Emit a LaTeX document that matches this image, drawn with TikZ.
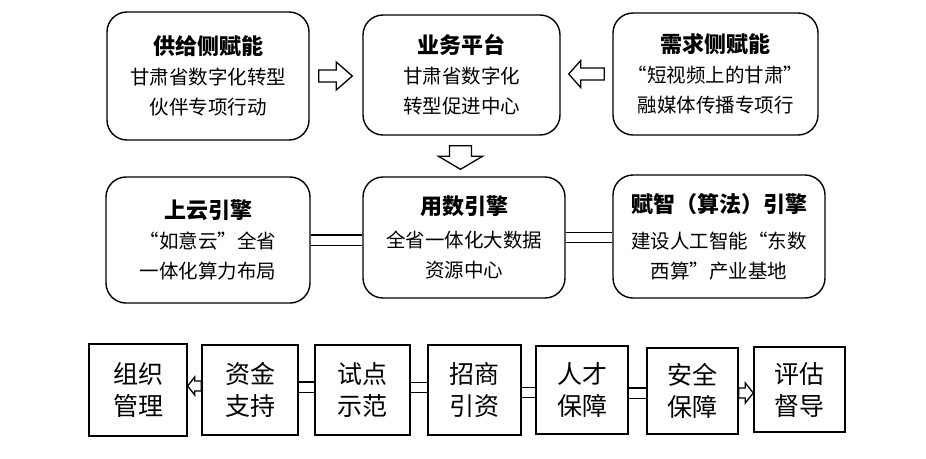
\documentclass[tikz,border=0pt]{standalone}
\usepackage{fontspec}
\setmainfont{Noto Sans CJK SC}
\usetikzlibrary{calc,backgrounds}
\newcommand\ttl[1]{{\bfseries\fontsize{22}{30}\selectfont #1}}
% hollow arrow: #1 tail coordinate, #2 tip coordinate, #3 shaft half width, #4 head half width, #5 head length
\newcommand\hollowarrow[5]{%
  \coordinate (ha-q) at ($(#2)!#5!(#1)$);
  \draw[harrow] ($(#1)!#3!90:(#2)$) -- ($(ha-q)!#3!-90:(#1)$) -- ($(ha-q)!#4!-90:(#1)$) -- (#2)
    -- ($(ha-q)!#4!90:(#1)$) -- ($(ha-q)!#3!90:(#1)$) -- ($(#1)!#3!-90:(#2)$) -- cycle;
}
\begin{document}
\begin{tikzpicture}[x=1pt,y=-1pt,
  rbox/.style={draw, line width=1.4pt, rounded corners=20pt, align=center, inner sep=0pt,
    font=\fontsize{19.5}{30}\selectfont},
  sbox/.style={draw, line width=1.4pt, align=center, inner sep=0pt,
    font=\fontsize{25}{32}\selectfont},
  harrow/.style={draw, line width=1.3pt, fill=white, line join=miter},
  bar/.style={double=white, double distance=9pt, line width=1.3pt}]
\useasboundingbox (0,0) rectangle (926,458);

% top row
\node[rbox, minimum width=202pt, minimum height=128pt] (A) at (208,76)
  {\ttl{供给侧赋能}\\甘肃省数字化转型\\伙伴专项行动};
\node[rbox, minimum width=197pt, minimum height=120pt] (B) at (461.5,75)
  {\ttl{业务平台}\\甘肃省数字化\\转型促进中心};
\node[rbox, minimum width=205pt, minimum height=122pt] (C) at (715.5,74)
  {\ttl{需求侧赋能}\\“短视频上的甘肃”\\融媒体传播专项行};

% middle row
\node[rbox, minimum width=204pt, minimum height=126pt] (D) at (208,240)
  {\ttl{上云引擎}\\“如意云”全省\\一体化算力布局};
\node[rbox, minimum width=202pt, minimum height=121pt] (E) at (464,237.5)
  {\ttl{用数引擎}\\[3pt]全省一体化大数据\\资源中心};
\node[rbox, minimum width=212pt, minimum height=123pt] (F) at (719,236.5)
  {\ttl{赋智（算法）引擎}\\[6pt]建设人工智能“东数\\西算”产业基地};

% bottom row
\node[sbox, minimum width=98pt, minimum height=92pt] (G) at (138,390) {组织\\管理};
\node[sbox, minimum width=96pt, minimum height=90pt] (H) at (250,390) {资金\\支持};
\node[sbox, minimum width=95pt, minimum height=90pt] (I) at (362.5,390) {试点\\示范};
\node[sbox, minimum width=93pt, minimum height=90pt] (J) at (474.5,390) {招商\\引资};
\node[sbox, minimum width=92pt, minimum height=88pt] (K) at (582,390) {人才\\保障};
\node[sbox, minimum width=91pt, minimum height=86pt] (L) at (692.5,391) {安全\\保障};
\node[sbox, minimum width=91pt, minimum height=85pt] (M) at (799.5,389.5) {评估\\督导};

% double bars
\begin{scope}[on background layer]
  \draw[bar] (D.east) -- (D.east -| E.west);
  \draw[bar] (E.east) -- (E.east -| F.west);
  \coordinate (hi) at ($(H.east)+(0,-3)$);
  \draw[bar] (hi) -- (hi -| I.west);
  \coordinate (ij) at ($(I.east)+(0,-2.5)$);
  \draw[bar] (ij) -- (ij -| J.west);
  \coordinate (jk) at ($(J.east)+(0,2.5)$);
  \draw[bar] (jk) -- (jk -| K.west);
  \coordinate (kl) at ($(K.east)+(0,3)$);
  \draw[bar] (kl) -- (kl -| L.west);
\end{scope}

% hollow arrows
\coordinate (ab-t) at ($(A.east)+(9,0)$);
\coordinate (ab-h) at ($(B.west |- ab-t)+(-10,0)$);
\hollowarrow{ab-t}{ab-h}{6pt}{14pt}{16pt}

\coordinate (cb-t) at ($(C.west)+(-8,0)$);
\coordinate (cb-h) at ($(B.east |- cb-t)+(8,0)$);
\hollowarrow{cb-t}{cb-h}{6pt}{13.5pt}{12pt}

\coordinate (be-t) at ($(B.south)+(-1,10)$);
\coordinate (be-h) at ($(E.north -| be-t)+(0,-7)$);
\hollowarrow{be-t}{be-h}{11pt}{22pt}{13pt}

\coordinate (hg-t) at ($(H.west)+(0,-4)$);
\coordinate (hg-h) at (G.east |- hg-t);
\hollowarrow{hg-t}{hg-h}{5pt}{9pt}{7pt}

\coordinate (lm-t) at ($(L.east)+(0,2)$);
\coordinate (lm-h) at (M.west |- lm-t);
\hollowarrow{lm-t}{lm-h}{5pt}{10pt}{8pt}
\end{tikzpicture}
\end{document}
